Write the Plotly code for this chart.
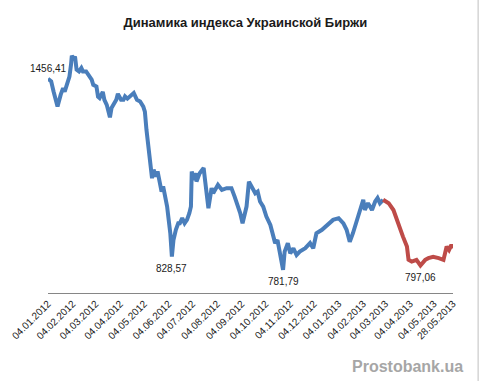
import plotly.graph_objects as go

# Blue segment (2012-01-04 .. 2013-03-01)
blue_dates = [
    "2012-01-04", "2012-01-08", "2012-01-11", "2012-01-15", "2012-01-16", "2012-01-20",
    "2012-01-23", "2012-01-25", "2012-01-28", "2012-01-30", "2012-01-31", "2012-02-02",
    "2012-02-03", "2012-02-05", "2012-02-07", "2012-02-09", "2012-02-12", "2012-02-15",
    "2012-02-17", "2012-02-21", "2012-02-24", "2012-02-26", "2012-02-28", "2012-03-01",
    "2012-03-05", "2012-03-07", "2012-03-09", "2012-03-13", "2012-03-15", "2012-03-18",
    "2012-03-20", "2012-03-22", "2012-03-24", "2012-03-26", "2012-03-30", "2012-04-01",
    "2012-04-05", "2012-04-08", "2012-04-10", "2012-04-13", "2012-04-16", "2012-04-20",
    "2012-04-21", "2012-04-25", "2012-04-29", "2012-05-03", "2012-05-05", "2012-05-07",
    "2012-05-09", "2012-05-12", "2012-05-14", "2012-05-16", "2012-05-19", "2012-05-21",
    "2012-05-24", "2012-05-26", "2012-05-28", "2012-05-30", "2012-06-02", "2012-06-04",
    "2012-06-06", "2012-06-08", "2012-06-10", "2012-06-13", "2012-06-16", "2012-06-18",
    "2012-06-21", "2012-06-24", "2012-06-27", "2012-06-30", "2012-07-02", "2012-07-03",
    "2012-07-05", "2012-07-08", "2012-07-09", "2012-07-13", "2012-07-18", "2012-07-20",
    "2012-07-24", "2012-07-28", "2012-07-30", "2012-08-05", "2012-08-10", "2012-08-16",
    "2012-08-22", "2012-08-26", "2012-09-02", "2012-09-05", "2012-09-10", "2012-09-13",
    "2012-09-18", "2012-09-21", "2012-09-24", "2012-09-27", "2012-10-01", "2012-10-05",
    "2012-10-10", "2012-10-14", "2012-10-16", "2012-10-19", "2012-10-22", "2012-10-26",
    "2012-10-28", "2012-11-01", "2012-11-04", "2012-11-08", "2012-11-12", "2012-11-16",
    "2012-11-23", "2012-11-29", "2012-12-03", "2012-12-07", "2012-12-14", "2012-12-18",
    "2012-12-24", "2012-12-28", "2013-01-04", "2013-01-10", "2013-01-14", "2013-01-18",
    "2013-01-22", "2013-01-27", "2013-01-31", "2013-02-04", "2013-02-06", "2013-02-10",
    "2013-02-15", "2013-02-19", "2013-02-22", "2013-02-25", "2013-03-01",
]
blue_values = [
    1456.41, 1447, 1411, 1364, 1358, 1400,
    1423, 1411, 1435, 1447, 1464, 1506,
    1538, 1523, 1535, 1488, 1482, 1494,
    1482, 1482, 1470, 1464, 1453, 1435,
    1429, 1393, 1388, 1410, 1382, 1364,
    1341, 1320, 1353, 1364, 1382, 1403,
    1382, 1382, 1394, 1386, 1394, 1400,
    1406, 1382, 1376, 1358, 1340, 1276,
    1217, 1158, 1105, 1135, 1111, 1129,
    1076, 1058, 1076, 1052, 1005, 958,
    911, 828.57, 887, 923, 946, 946,
    964, 946, 958, 982, 1005, 1129,
    1099, 1123, 1093, 1123, 1141, 1093,
    999, 1070, 1052, 1082, 1064, 1070,
    1070, 1040, 982, 946, 1005, 1093,
    1064, 1052, 1058, 1023, 1005, 970,
    940, 905, 876, 887, 840, 781.79,
    846, 876, 840, 858, 834, 846,
    858, 876, 858, 911, 923, 934,
    946, 958, 964, 946, 923, 881,
    911, 958, 993, 1029, 993, 1017,
    993, 1023, 1035, 1017, 1029,
]

# Red segment (2013-03-01 .. 2013-05-28)
red_dates = [
    "2013-03-01", "2013-03-08", "2013-03-14", "2013-03-18", "2013-03-22", "2013-03-26",
    "2013-03-31", "2013-04-02", "2013-04-06", "2013-04-12", "2013-04-17", "2013-04-23",
    "2013-04-27", "2013-05-03", "2013-05-10", "2013-05-16", "2013-05-20", "2013-05-23",
    "2013-05-26", "2013-05-28",
]
red_values = [
    1029, 1017, 993, 958, 923, 899,
    864, 817, 811, 817, 797.06, 817,
    823, 828, 823, 817, 864, 852,
    870, 858,
]

# Labelled points
label_dates = ["2012-01-04", "2012-06-08", "2012-10-26", "2013-04-17"]
label_values = [1456.41, 828.57, 781.79, 797.06]
label_texts = ["1456,41", "828,57", "781,79", "797,06"]
label_above = [True, False, False, False]

tick_dates = [
    "2012-01-04", "2012-02-04", "2012-03-04", "2012-04-04", "2012-05-04", "2012-06-04",
    "2012-07-04", "2012-08-04", "2012-09-04", "2012-10-04", "2012-11-04", "2012-12-04",
    "2013-01-04", "2013-02-04", "2013-03-04", "2013-04-04", "2013-05-04", "2013-05-28",
]
tick_labels = [
    "04.01.2012", "04.02.2012", "04.03.2012", "04.04.2012", "04.05.2012", "04.06.2012",
    "04.07.2012", "04.08.2012", "04.09.2012", "04.10.2012", "04.11.2012", "04.12.2012",
    "04.01.2013", "04.02.2013", "04.03.2013", "04.04.2013", "04.05.2013", "28.05.2013",
]

BLUE = "#4A7EBB"
RED = "#BE4B48"
FONT = "Liberation Sans, Arial"

fig = go.Figure()
fig.add_trace(go.Scatter(x=blue_dates, y=blue_values, mode="lines",
                         line=dict(color=BLUE, width=4), hoverinfo="skip"))
fig.add_trace(go.Scatter(x=red_dates, y=red_values, mode="lines",
                         line=dict(color=RED, width=4), hoverinfo="skip"))

annotations = []
for d, v, t, above in zip(label_dates, label_values, label_texts, label_above):
    annotations.append(dict(x=d, y=v, xref="x", yref="y", text=t, showarrow=False,
                            xanchor="center", yanchor="middle",
                            yshift=10 if above else -12,
                            font=dict(family=FONT, size=10, color="#1a1a1a")))
annotations.append(dict(text="<b>Prostobank.ua</b>", xref="paper", yref="paper",
                        x=1.03, y=-0.29, xanchor="right", yanchor="middle",
                        showarrow=False,
                        font=dict(family=FONT, size=16, color="#A6A6A6")))

fig.update_layout(
    width=481, height=387,
    margin=dict(l=48, r=28, t=38, b=94),
    paper_bgcolor="white", plot_bgcolor="white",
    showlegend=False,
    hovermode=False,
    title=dict(text="<b>Динамика индекса Украинской Биржи</b>",
               x=0.51, xanchor="center", y=0.943, yanchor="middle",
               font=dict(family=FONT, size=13, color="#1a1a1a")),
    xaxis=dict(type="date", range=["2012-01-04", "2013-05-28"],
               showgrid=False, zeroline=False, automargin=False,
               showline=True, linecolor="#868686", linewidth=1,
               ticks="", tickmode="array", tickvals=tick_dates, ticktext=tick_labels,
               tickangle=-45,
               tickfont=dict(family=FONT, size=10, color="#1a1a1a")),
    yaxis=dict(range=[700, 1600], visible=False, automargin=False),
    annotations=annotations,
    shapes=[dict(type="line", xref="paper", yref="paper",
                 x0=1.062, x1=1.062, y0=-0.345, y1=1.15,
                 line=dict(color="#BFBFBF", width=1))],
)

fig.write_html("out.html", config={"displayModeBar": False},
               post_script="document.body.style.margin='0';document.body.style.overflow='hidden';")
